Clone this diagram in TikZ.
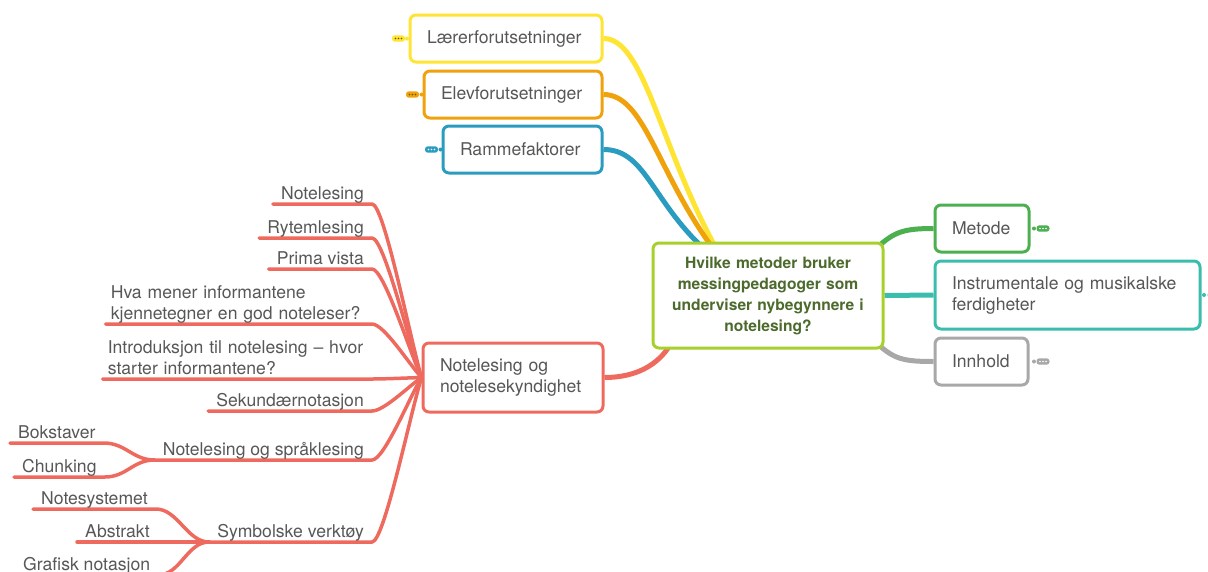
\documentclass[tikz,border=0pt]{standalone}
\usepackage{fontspec}
\setmainfont{TeX Gyre Heros}
\usetikzlibrary{calc}

\definecolor{cyel}{HTML}{FFE433}
\definecolor{cora}{HTML}{EFA20C}
\definecolor{cblu}{HTML}{2A9CC0}
\definecolor{clim}{HTML}{A8D02C}
\definecolor{cgrn}{HTML}{4CAF50}
\definecolor{ctea}{HTML}{3BBDAE}
\definecolor{cgry}{HTML}{A8A8A8}
\definecolor{cred}{HTML}{EE6A5E}
\definecolor{ctxt}{HTML}{575757}
\definecolor{cctr}{HTML}{4B6A2C}
\definecolor{cdot}{HTML}{6B5200}

\pgfdeclarelayer{bg}
\pgfsetlayers{bg,main}

\newcommand\txtfont{\fontsize{17.6}{21}\selectfont}
\newcommand\dpstrut{\rule[-4.5pt]{0pt}{4.5pt}}
% collapsed-branch marker: x, y, colour, dot colour, x of the joining dot
\newcommand\foldmark[5]{%
  \fill[#3] (#5,#2) circle (2pt);
  \fill[#3,rounded corners=2.8pt] (#1-6.5,#2-3.2) rectangle (#1+6.5,#2+3.2);
  \foreach \d in {-3,0,3} \fill[#4] (#1+\d,#2) circle (0.8pt);
}

\begin{document}
\begin{tikzpicture}[x=1pt,y=-1pt,
  box/.style={draw, line width=3pt, rounded corners=6pt, fill=white, text=ctxt,
    font=\txtfont, inner xsep=17pt, inner ysep=0pt, align=left},
  leaf/.style={text=ctxt, font=\txtfont, inner xsep=8pt, inner ysep=0pt},
  oneline/.style={leaf, text depth=4.5pt},
  rline/.style={draw=cred, line width=3.5pt, line cap=round},
  mline/.style={line width=5pt},
  branch/.style={to path={.. controls ($(\tikztostart)+(12,0)$) and ($(\tikztotarget)!0.25!(\tikztostart)$) .. (\tikztotarget)}},
  sbranch/.style={to path={.. controls ($(\tikztostart)+(22,0)$) and ($(\tikztotarget)+(-22,0)$) .. (\tikztotarget)}},
  topbranch/.style={to path={.. controls ($(\tikztostart)+(40,0)$) and ($(\tikztotarget)!0.5!(\tikztostart)$) .. (\tikztotarget)}},
]
\useasboundingbox (0,0) rectangle (1208,571);

% central topic
\node[draw=clim, line width=3pt, rounded corners=6pt, fill=white, text=cctr,
  font=\fontsize{15.6}{21}\selectfont\bfseries, align=center, text width=200pt,
  minimum width=230pt, minimum height=105pt, inner sep=0pt] (central) at (768,295.5)
  {Hvilke metoder bruker\\messingpedagoger som\\underviser nybegynnere i\\notelesing?};

% main topics
\node[box, draw=cyel, minimum width=192pt, minimum height=47pt, text width=158pt] (laerer) at (506,38.5) {Lærerforutsetninger};
\node[box, draw=cora, minimum width=178pt, minimum height=47pt, text width=144pt] (elev) at (513,94.5) {Elevforutsetninger};
\node[box, draw=cblu, minimum width=159pt, minimum height=47pt, text width=125pt] (ramme) at (522.5,149.5) {Rammefaktorer};
\node[box, draw=cgrn, minimum width=94pt, minimum height=47pt, text width=60pt] (metode) at (982,228.5) {Metode};
\node[box, draw=ctea, minimum width=265pt, minimum height=68pt, text width=231pt] (instr) at (1067.5,295) {Instrumentale og musikalske\\ferdigheter};
\node[box, draw=cgry, minimum width=93pt, minimum height=47pt, text width=59pt] (innhold) at (981.5,361.5) {Innhold};
\node[box, draw=cred, minimum width=180pt, minimum height=69pt, text width=146pt] (notebox) at (513,377.5) {Notelesing og\\notelesekyndighet};

% subtopics of the red branch
\node[oneline, anchor=south east] (l1) at (372,204) {Notelesing};
\node[oneline, anchor=south east] (l2) at (372,238) {Rytemlesing};
\node[oneline, anchor=south east] (l3) at (372,269) {Prima vista};
\node[leaf, anchor=south east, inner xsep=5pt, text width=256pt, align=left] (l4) at (372,324) {Hva mener informantene\\kjennetegner en god noteleser?\dpstrut};
\node[leaf, anchor=south east, inner xsep=5pt, text width=259pt, align=left] (l5) at (372,379) {Introduksjon til notelesing – hvor\\starter informantene?\dpstrut};
\node[oneline, anchor=south east] (l6) at (372,411) {Sekundærnotasjon};
\node[oneline, anchor=south east] (spr) at (372,460) {Notelesing og språklesing};
\node[oneline, anchor=south east] (sym) at (372,542) {Symbolske verktøy};
\node[oneline, anchor=south west] (bok) at (10,443) {Bokstaver};
\node[oneline, anchor=south west] (chu) at (14,477) {Chunking};
\node[oneline, anchor=south west] (nsy) at (33,509) {Notesystemet};
\node[oneline, anchor=south west] (abs) at (77,542) {Abstrakt};
\node[oneline, anchor=south west] (gra) at (15,575) {Grafisk notasjon};

% collapsed markers
\foldmark{398.5}{38.5}{cyel}{cdot}{407}
\foldmark{412.5}{94.5}{cora}{cdot}{421.5}
\foldmark{431.5}{149.5}{cblu}{white}{440.5}
\foldmark{1043}{228.5}{cgrn}{white}{1034}
\foldmark{1043}{361.5}{cgry}{white}{1034}
\foldmark{1214}{295}{ctea}{white}{1204}

\begin{pgfonlayer}{bg}
  % connectors from the central topic
  \draw[mline, cyel] (laerer.east) to[topbranch] ($(central.north west)+(62,2)$);
  \draw[mline, cora] (elev.east) to[topbranch] ($(central.north west)+(58,2)$);
  \draw[mline, cblu] (ramme.east) to[topbranch] ($(central.north west)+(47,2)$);
  \draw[mline, cgrn] ($(central.north east)+(-4,3)$) .. controls +(15,-13) and +(-28,0) .. (metode.west);
  \draw[mline, ctea] (central.east) -- (instr.west);
  \draw[mline, cgry] ($(central.south east)+(-4,-3)$) .. controls +(15,13) and +(-28,0) .. (innhold.west);
  \draw[mline, cred] ($(central.south west)+(17,-2)$) .. controls +(-15,22) and +(25,0) .. (notebox.east);
  % subtopic underlines and their branches
  \foreach \n in {l1,l2,l3,l4,l5,l6,spr,sym}
    \draw[rline] (\n.south west) -- (\n.south east) to[branch] (notebox.west);
  \draw[rline] (bok.south west) -- (bok.south east) to[sbranch] (spr.south west);
  \draw[rline] (chu.south west) -- (chu.south east) to[sbranch] (spr.south west);
  \draw[rline] (nsy.south west) -- (nsy.south east) to[sbranch] (sym.south west);
  \draw[rline] (abs.south west) -- (abs.south east) to[sbranch] (sym.south west);
  \draw[rline] (gra.south west) -- (gra.south east) to[sbranch] (sym.south west);
\end{pgfonlayer}
\end{tikzpicture}
\end{document}
